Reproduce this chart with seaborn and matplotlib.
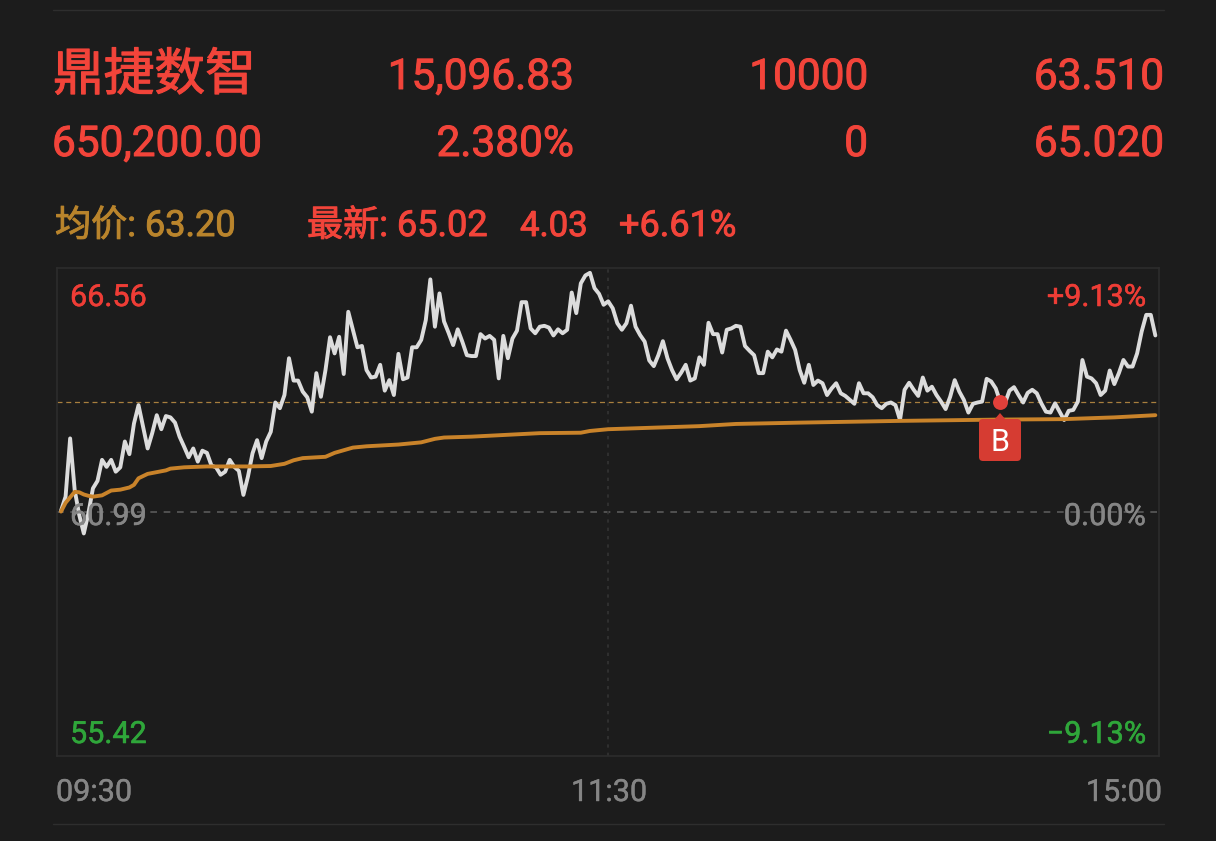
import matplotlib
matplotlib.use('Agg')
import matplotlib.patheffects as pe
import matplotlib.pyplot as plt
import pandas as pd
import seaborn as sns
from matplotlib.lines import Line2D
from matplotlib.patches import FancyBboxPatch
from matplotlib.transforms import IdentityTransform

# Price per minute
prices = [
    61.02, 61.34, 62.67, 61.49, 60.92, 60.50, 60.96, 61.53, 61.70, 62.18,
    62.02, 62.18, 61.91, 62.01, 62.60, 62.31, 63.01, 63.43, 62.94, 62.44,
    62.79, 63.20, 62.88, 63.18, 63.15, 63.03, 62.71, 62.48, 62.24, 62.44,
    62.14, 62.39, 62.34, 62.05, 62.01, 61.84, 61.91, 62.18, 62.02, 61.93,
    61.38, 61.80, 62.33, 62.63, 62.22, 62.60, 62.82, 63.49, 63.36, 63.66,
    64.50, 63.99, 63.99, 63.74, 63.61, 63.28, 64.16, 63.62, 64.23, 64.98,
    64.61, 64.99, 64.14, 65.56, 65.15, 64.75, 64.78, 64.23, 64.06, 64.08,
    64.35, 63.76, 64.00, 63.66, 64.60, 64.02, 64.06, 64.75, 64.75, 64.92,
    65.37, 66.30, 65.22, 65.98, 65.34, 65.08, 64.80, 65.16, 64.88, 64.57,
    64.55, 64.55, 65.05, 64.95, 65.01, 64.92, 64.04, 65.01, 64.50, 64.95,
    65.13, 65.78, 65.78, 65.18, 65.07, 65.22, 65.24, 65.20, 65.02, 65.16,
    65.07, 65.15, 66.00, 65.53, 66.21, 66.39, 66.45, 66.10, 65.97, 65.72,
    65.80, 65.64, 65.30, 65.15, 65.30, 65.70, 65.22, 65.03, 64.88, 64.45,
    64.32, 64.57, 64.89, 64.50, 64.23, 64.02, 64.17, 64.35, 63.99, 64.04,
    64.52, 64.35, 65.31, 65.05, 65.05, 64.63, 65.15, 65.18, 65.24, 65.22,
    64.78, 64.67, 64.57, 64.16, 64.16, 64.65, 64.52, 64.70, 64.65, 65.13,
    64.92, 64.69, 64.23, 63.94, 64.35, 63.89, 63.99, 63.93, 63.66, 63.81,
    63.93, 63.70, 63.64, 63.55, 63.46, 63.93, 63.70, 63.70, 63.61, 63.43,
    63.36, 63.46, 63.49, 63.43, 63.09, 63.78, 63.94, 63.78, 63.64, 64.06,
    63.76, 63.85, 63.66, 63.51, 63.34, 63.62, 64.00, 63.74, 63.55, 63.26,
    63.46, 63.49, 63.51, 64.03, 63.97, 63.81, 63.50, 63.47, 63.76, 63.84,
    63.66, 63.49, 63.71, 63.78, 63.70, 63.47, 63.28, 63.26, 63.47, 63.28,
    63.09, 63.30, 63.32, 63.51, 64.46, 64.08, 64.04, 63.93, 63.66, 63.76,
    64.22, 63.91, 64.16, 64.46, 64.31, 64.31, 64.61, 65.11, 65.49, 65.49,
    65.02,
]

# Average price, read at the minutes where the line changes slope
avg_minutes = [0, 1, 3, 4, 5, 6, 7, 9, 11, 13, 15, 16, 17, 19, 21, 23, 24, 27, 32, 41,
               46, 49, 51, 53, 58, 60, 64, 67, 74, 79, 82, 84, 90, 105, 114, 116, 120,
               140, 148, 162, 184, 206, 220, 231, 240]
avg_prices = [61.00, 61.20, 61.45, 61.44, 61.39, 61.36, 61.34, 61.37, 61.48, 61.50,
              61.55, 61.61, 61.76, 61.86, 61.90, 61.94, 61.98, 62.01, 62.03, 62.03,
              62.04, 62.09, 62.17, 62.22, 62.25, 62.34, 62.46, 62.49, 62.53, 62.58,
              62.66, 62.69, 62.71, 62.79, 62.80, 62.84, 62.88, 62.95, 63.00, 63.03,
              63.07, 63.10, 63.11, 63.15, 63.20]

prev_close = 60.99
high_price = 63.51
y_top = 66.56
y_bottom = 55.42
buy_minute = 206
buy_price = 63.50
noon_minute = 120
tick_labels = ['09:30', '11:30', '15:00']

BG = '#1c1c1c'
RED = '#f2443a'
GOLD = '#b9842c'
GREY = '#858585'
GREEN = '#2fa63a'
W, H = 1216, 841

sns.set_theme(style='dark', rc={'axes.facecolor': BG, 'figure.facecolor': BG})
plt.rcParams['font.family'] = ['Roboto', 'Noto Sans CJK SC']

fig = plt.figure(figsize=(W / 100, H / 100), dpi=100)
ax = fig.add_axes([57 / W, 1 - 756 / H, (1159 - 57) / W, (756 - 268) / H])

line_df = pd.DataFrame({'minute': range(len(prices)), 'price': prices})
avg_df = pd.DataFrame({'minute': avg_minutes, 'price': avg_prices})

ax.axhline(prev_close, color='#5a5a5a', lw=1.2, ls=(0, (4, 4)), zorder=1)
ax.axhline(high_price, color='#a87f3e', lw=0.9, ls=(0, (4, 3)), zorder=1)
ax.axvline(noon_minute, color='#333333', lw=1.2, ls=(0, (2, 3)), zorder=1)

sns.lineplot(data=line_df, x='minute', y='price', color='#dcdcdc', lw=2.8,
             estimator=None, sort=False, ax=ax, zorder=3)
sns.lineplot(data=avg_df, x='minute', y='price', color='#c9832a', lw=2.8,
             estimator=None, sort=False, ax=ax, zorder=4)
ax.scatter([buy_minute], [buy_price], s=115, color='#e2403a', zorder=6, linewidths=0)

ax.set_xlim(-0.88, 240.8)
ax.set_ylim(y_bottom, y_top)
ax.set_xlabel('')
ax.set_ylabel('')
ax.set_yticks([])
ax.set_xticks([])
for s in ax.spines.values():
    s.set_color('#2c2c2c')
    s.set_linewidth(1.2)


def px_text(x, y, s, color, size, ha='left', bold=0.7, **kw):
    # x and baseline y in picture pixels
    t = fig.text(x / W, 1 - y / H, s, color=color, fontsize=size, ha=ha, va='baseline', **kw)
    if bold:
        t.set_path_effects([pe.withStroke(linewidth=bold, foreground=color)])
    return t


# header
px_text(53, 90, '鼎捷数智', RED, 36.5, family=['Noto Sans CJK SC'], bold=0.8)
px_text(574, 89, '15,096.83', RED, 30.5, ha='right')
px_text(868, 89, '10000', RED, 30.5, ha='right')
px_text(1164, 89, '63.510', RED, 30.5, ha='right')
px_text(52, 156, '650,200.00', RED, 30.5)
px_text(574, 156, '2.380%', RED, 30.5, ha='right')
px_text(868, 156, '0', RED, 30.5, ha='right')
px_text(1164, 156, '65.020', RED, 30.5, ha='right')
px_text(55, 236, '均价: 63.20', GOLD, 26)
px_text(307, 236, '最新: 65.02', RED, 26)
px_text(520, 236, '4.03', RED, 25)
px_text(619, 236, '+6.61%', RED, 26)

# labels inside the plot
px_text(70, 306, '66.56', '#ee3d36', 22, bold=0.4)
px_text(70, 525, '60.99', GREY, 22, bold=0.4)
px_text(70, 743, '55.42', GREEN, 22, bold=0.4)
px_text(1146, 306, '+9.13%', '#ee3d36', 22, ha='right', bold=0.4)
px_text(1146, 525, '0.00%', GREY, 22, ha='right', bold=0.4)
px_text(1146, 743, '−9.13%', GREEN, 22, ha='right', bold=0.4)

# time labels under the plot
px_text(56, 801, tick_labels[0], GREY, 22, bold=0.3)
px_text(609, 801, tick_labels[1], GREY, 22, ha='center', bold=0.3)
px_text(1162, 801, tick_labels[2], GREY, 22, ha='right', bold=0.3)

# buy tag under the dot
tag_color = '#d63c32'
fig.add_artist(FancyBboxPatch((981, H - 459), 38, 38, boxstyle='round,pad=2,rounding_size=4',
                              fc=tag_color, ec='none', transform=IdentityTransform()))
fig.add_artist(plt.Polygon([(994, H - 420), (1000, H - 413), (1006, H - 420)], fc=tag_color,
                           ec='none', transform=IdentityTransform()))
px_text(1000, 451, 'B', 'white', 22, ha='center', bold=0, zorder=10)

# thin rules at top and bottom
for y in (10, 824):
    fig.add_artist(Line2D([53 / W, 1164 / W], [1 - y / H, 1 - y / H], color='#2e2e2e', lw=1.0))

fig.savefig('out.png', dpi=100, facecolor=BG)
